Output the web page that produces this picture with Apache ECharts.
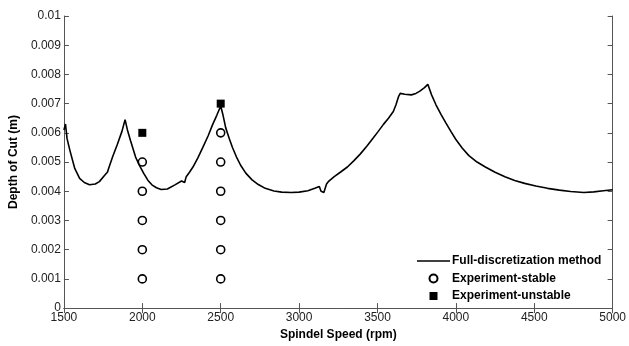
<!DOCTYPE html>
<html><head><meta charset="utf-8">
<script src="https://cdn.jsdelivr.net/npm/echarts@6/dist/echarts.min.js"></script>
<style>html,body{margin:0;padding:0;background:#fff}#c{width:629px;height:346px}</style>
</head><body><div id="c"></div>
<script>
const curveRpm = [1500,1510,1520,1538,1569,1600,1630,1663,1700,1726,1760,1778,1785,1790,1810,1841,1870,1890,1905,1925,1957,1985,2009,2035,2061,2090,2120,2160,2208,2250,2262,2270,2280,2302,2323,2355,2386,2420,2449,2475,2500,2515,2532,2555,2575,2600,2627,2660,2700,2740,2784,2840,2889,2950,3000,3056,3100,3129,3140,3158,3175,3190,3224,3265,3308,3350,3391,3433,3475,3505,3538,3570,3601,3618,3635,3645,3674,3716,3745,3768,3800,3821,3845,3873,3905,3936,3968,3999,4040,4083,4135,4188,4250,4313,4375,4439,4510,4585,4660,4732,4816,4880,4941,5000];
const curveDepth = [0.0061,0.0063,0.0058,0.0054,0.00478,0.00444,0.0043,0.00422,0.00425,0.00433,0.00455,0.00466,0.00478,0.00482,0.00517,0.00561,0.00605,0.00645,0.0061,0.00573,0.00517,0.00485,0.00461,0.00438,0.00422,0.00412,0.00406,0.00408,0.00422,0.00435,0.0044,0.0043,0.0045,0.00466,0.00483,0.00515,0.0055,0.0059,0.00629,0.0066,0.00692,0.0066,0.00617,0.0058,0.0055,0.00518,0.00489,0.00462,0.00439,0.00423,0.0041,0.00401,0.00397,0.00396,0.00397,0.00402,0.0041,0.00416,0.004,0.00396,0.00425,0.00435,0.0045,0.00466,0.00483,0.00505,0.00528,0.00555,0.00584,0.00605,0.00629,0.0065,0.00673,0.00696,0.00725,0.00735,0.00732,0.0073,0.00735,0.00742,0.00755,0.00766,0.0073,0.00696,0.00663,0.00634,0.00605,0.00578,0.00548,0.00522,0.005,0.00483,0.00465,0.0045,0.00437,0.00427,0.00418,0.0041,0.00404,0.00399,0.00396,0.00398,0.00402,0.00405];
const stableRpm = [2000,2000,2000,2000,2000,2500,2500,2500,2500,2500,2500];
const stableDepth = [0.001,0.002,0.003,0.004,0.005,0.001,0.002,0.003,0.004,0.005,0.006];
const unstableRpm = [2000,2500];
const unstableDepth = [0.006,0.007];
const xTicks = {min:1500,max:5000,interval:500};
const yTicks = {min:0,max:0.01,interval:0.001};

const FONT = 'Liberation Sans, Arial, sans-serif';
const axisColor = '#555';
const zip = (a,b)=>a.map((v,i)=>[v,b[i]]);
const chart = echarts.init(document.getElementById('c'));
const lbl = {color:'#222',fontSize:12,fontFamily:FONT};
chart.setOption({
  animation:false,
  backgroundColor:'#fff',
  grid:{left:59,right:13,top:16,bottom:32},
  xAxis:[{
    type:'value',min:xTicks.min,max:xTicks.max,interval:xTicks.interval,position:'bottom',
    name:'Spindel Speed (rpm)',nameLocation:'middle',nameGap:17,
    nameTextStyle:{fontWeight:'bold',fontSize:12,color:'#000',fontFamily:FONT},
    axisLine:{lineStyle:{color:axisColor,width:1}},
    axisTick:{inside:true,length:5,lineStyle:{color:axisColor}},
    axisLabel:Object.assign({margin:4,formatter:v=>String(v)},lbl),
    splitLine:{show:false}
  },{
    type:'value',min:xTicks.min,max:xTicks.max,interval:xTicks.interval,position:'top',
    axisLine:{lineStyle:{color:axisColor,width:1}},
    axisTick:{inside:true,length:5,lineStyle:{color:axisColor}},
    axisLabel:{show:false},splitLine:{show:false}
  }],
  yAxis:[{
    type:'value',min:yTicks.min,max:yTicks.max,interval:yTicks.interval,position:'left',
    name:'Depth of Cut (m)',nameLocation:'middle',nameGap:41,
    nameTextStyle:{fontWeight:'bold',fontSize:12,color:'#000',fontFamily:FONT},
    axisLine:{show:true,lineStyle:{color:axisColor,width:1}},
    axisTick:{show:true,inside:true,length:5,lineStyle:{color:axisColor}},
    axisLabel:Object.assign({margin:3},lbl),
    splitLine:{show:false}
  },{
    type:'value',min:yTicks.min,max:yTicks.max,interval:yTicks.interval,position:'right',
    axisLine:{show:true,lineStyle:{color:axisColor,width:1}},
    axisTick:{show:true,inside:true,length:5,lineStyle:{color:axisColor}},
    axisLabel:{show:false},splitLine:{show:false}
  }],
  legend:{
    orient:'vertical',left:417,top:255,padding:0,itemWidth:33,itemHeight:8,itemGap:5.5,
    textStyle:{fontWeight:'bold',fontSize:12,color:'#000',fontFamily:FONT,padding:[0,0,0,-3]},
    data:[
      {name:'Full-discretization method',icon:'path://M0,0h33v1.6h-33z'},
      {name:'Experiment-stable'},
      {name:'Experiment-unstable',icon:'path://M0,0h8v8h-8z'}
    ]
  },
  series:[{
    name:'Full-discretization method',type:'line',data:zip(curveRpm,curveDepth),
    symbol:'none',showSymbol:false,smooth:false,lineStyle:{color:'#000',width:1.6},itemStyle:{color:'#000'}
  },{
    name:'Experiment-stable',type:'scatter',data:zip(stableRpm,stableDepth),
    symbol:'circle',symbolSize:8,itemStyle:{color:'#fff',borderColor:'#000',borderWidth:1.6,opacity:1}
  },{
    name:'Experiment-unstable',type:'scatter',data:zip(unstableRpm,unstableDepth),
    symbol:'rect',symbolSize:8,itemStyle:{color:'#000',opacity:1}
  }]
});
</script></body></html>
